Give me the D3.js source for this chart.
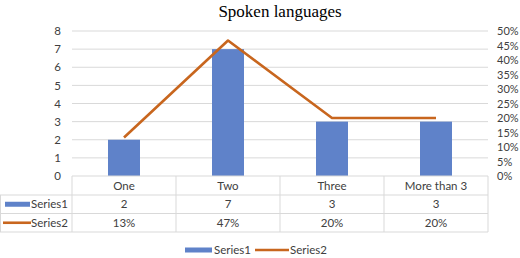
<!DOCTYPE html>
<html><head><meta charset="utf-8">
<script src="https://cdn.jsdelivr.net/npm/d3@7"></script>
<style>body{margin:0;background:#fff}svg{display:block}</style>
</head><body>
<script>
const categories = ["One", "Two", "Three", "More than 3"];
const series1 = [2, 7, 3, 3];
const series2 = [0.133, 0.467, 0.20, 0.20];
const series2Labels = ["13%", "47%", "20%", "20%"];
const leftTicks = [0,1,2,3,4,5,6,7,8];
const rightTicks = [0,0.05,0.1,0.15,0.2,0.25,0.3,0.35,0.4,0.45,0.5];
const seriesNames = ["Series1", "Series2"];
const title = "Spoken languages";

const W = 520, H = 258;
const blue = "#5f82c9", orange = "#c8661e", grid = "#d9d9d9", txt = "#404040";
const font = "Lato, 'Open Sans', sans-serif";
const fs = 11.5;
const svg = d3.select("body").append("svg").attr("width", W).attr("height", H);

const x = d3.scaleBand().domain(categories).range([72, 488]).paddingInner(0).paddingOuter(0);
const yL = d3.scaleLinear().domain([0, 8]).range([176, 31]);
const yR = d3.scaleLinear().domain([0, 0.5]).range([176, 31]);

svg.append("text").attr("x", 280).attr("y", 17).attr("text-anchor", "middle")
  .attr("font-family", "'Liberation Serif', serif").attr("font-size", 17).attr("fill", "#000").text(title);

// gridlines
svg.append("g").selectAll("line").data(leftTicks.filter(d => d > 0)).join("line")
  .attr("x1", 72).attr("x2", 488).attr("y1", d => yL(d)).attr("y2", d => yL(d))
  .attr("stroke", grid).attr("stroke-width", 1);

// left axis
const la = svg.append("g").attr("transform", "translate(72,0)")
  .call(d3.axisLeft(yL).tickValues(leftTicks).tickSize(0).tickPadding(11).tickFormat(d3.format("d")));
la.select(".domain").remove();
la.selectAll("text").attr("font-family", font).attr("font-size", fs).attr("fill", txt);

// right axis
const ra = svg.append("g").attr("transform", "translate(488,0)")
  .call(d3.axisRight(yR).tickValues(rightTicks).tickSize(0).tickPadding(9).tickFormat(d3.format(".0%")));
ra.select(".domain").remove();
ra.selectAll("text").attr("font-family", font).attr("font-size", 11).attr("fill", txt);

// bars
const bw = 32;
svg.append("g").selectAll("rect").data(series1).join("rect")
  .attr("x", (d, i) => x(categories[i]) + x.bandwidth() / 2 - bw / 2)
  .attr("width", bw).attr("y", d => yL(d)).attr("height", d => yL(0) - yL(d)).attr("fill", blue);

// line
const line = d3.line().x((d, i) => x(categories[i]) + x.bandwidth() / 2).y(d => yR(d));
svg.append("path").datum(series2).attr("d", line).attr("fill", "none")
  .attr("stroke", orange).attr("stroke-width", 2.6).attr("stroke-linejoin", "round");

// data table
const rowY = [176, 195, 213.5, 232];
const tg = svg.append("g");
tg.append("line").attr("x1", 72).attr("x2", 488).attr("y1", rowY[0]).attr("y2", rowY[0]).attr("stroke", grid);
[1, 2, 3].forEach(r => tg.append("line").attr("x1", 0).attr("x2", 488).attr("y1", rowY[r]).attr("y2", rowY[r]).attr("stroke", grid));
categories.forEach(c => tg.append("line").attr("x1", x(c)).attr("x2", x(c)).attr("y1", rowY[0]).attr("y2", rowY[3]).attr("stroke", grid));
tg.append("line").attr("x1", 488).attr("x2", 488).attr("y1", rowY[0]).attr("y2", rowY[3]).attr("stroke", grid);
tg.append("line").attr("x1", 0.5).attr("x2", 0.5).attr("y1", rowY[1]).attr("y2", rowY[3]).attr("stroke", grid);

const cellText = (row, vals) => tg.append("g").selectAll("text").data(vals).join("text")
  .attr("x", (d, i) => x(categories[i]) + x.bandwidth() / 2)
  .attr("y", (rowY[row] + rowY[row + 1]) / 2 + 4)
  .attr("text-anchor", "middle").attr("font-family", font).attr("font-size", fs).attr("fill", txt).text(d => d);
cellText(0, categories);
cellText(1, series1);
cellText(2, series2Labels);

tg.append("rect").attr("x", 5).attr("y", (rowY[1] + rowY[2]) / 2 - 2.5).attr("width", 25).attr("height", 5).attr("fill", blue);
tg.append("text").attr("x", 31).attr("y", (rowY[1] + rowY[2]) / 2 + 4).attr("font-family", font).attr("font-size", fs).attr("fill", txt).text(seriesNames[0]);
tg.append("line").attr("x1", 3).attr("x2", 31).attr("y1", (rowY[2] + rowY[3]) / 2).attr("y2", (rowY[2] + rowY[3]) / 2).attr("stroke", orange).attr("stroke-width", 2.6);
tg.append("text").attr("x", 31).attr("y", (rowY[2] + rowY[3]) / 2 + 4).attr("font-family", font).attr("font-size", fs).attr("fill", txt).text(seriesNames[1]);

// bottom legend
const lg = svg.append("g");
lg.append("rect").attr("x", 185).attr("y", 247.5).attr("width", 27).attr("height", 5).attr("fill", blue);
lg.append("text").attr("x", 214).attr("y", 254).attr("font-family", font).attr("font-size", fs).attr("fill", txt).text(seriesNames[0]);
lg.append("line").attr("x1", 255).attr("x2", 289).attr("y1", 250).attr("y2", 250).attr("stroke", orange).attr("stroke-width", 2.6);
lg.append("text").attr("x", 290).attr("y", 254).attr("font-family", font).attr("font-size", fs).attr("fill", txt).text(seriesNames[1]);
</script>
</body></html>
